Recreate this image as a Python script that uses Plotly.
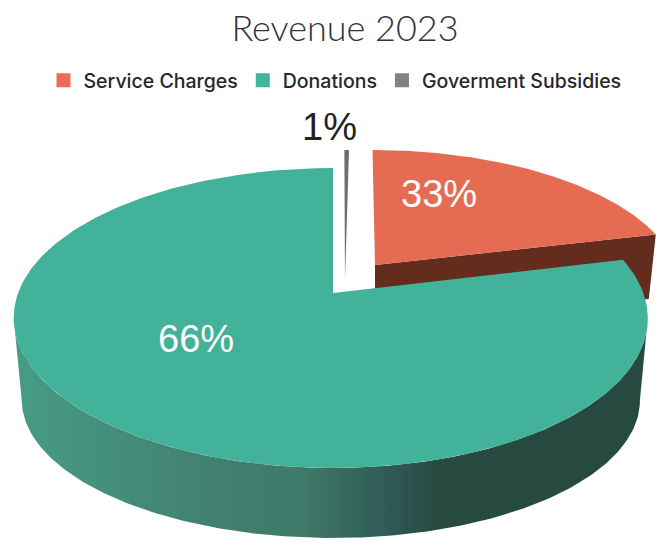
import numpy as np
import plotly.graph_objects as go

# Data
categories = ["Service Charges", "Donations", "Goverment Subsidies"]
label_pct = [33, 66, 1]
# Drawn slices: the picture's wedges are not proportional to their labels
slice_start_deg = [0.0, 76.3, 0.4]
slice_sweep_deg = [76.3, 283.7, 1.0]
top_colors = ["#e56c52", "#42b29a", "#6e6e70"]
legend_colors = ["#ee6c55", "#42b59b", "#808285"]

# Projection of the tilted disc (perspective)
B, K, A = 145.8, 1 / 6, 312.6
# apex x, apex y, x scale, y scale, lean of the far edge
apex = {"Service Charges": (375, 265, 0.969, 0.92, -2.5),
        "Donations": (333, 293, 1.0, 1.0, 0.0),
        "Goverment Subsidies": (345, 280, 0.994, 1.04, -2.5)}
WALL_DROP, WALL_SX, WALL_SY = 84, 0.975, 0.92


def rim(theta_deg, name, low=False, drop=WALL_DROP):
    t = np.radians(theta_deg)
    cx, cy, sx, sy, lean = apex[name]
    w = 1 + K * np.cos(t)
    dx = sx * A * np.sin(t) / w + lean * np.cos(t) ** 2 - 2.3 * np.sin(t) ** 2
    dy = -sy * B * np.cos(t) / w
    if low:
        return cx + WALL_SX * dx, cy + drop + WALL_SY * dy
    return cx + dx, cy + dy


def wedge(name, start, sweep):
    th = np.linspace(start, start + sweep, 240)
    x, y = rim(th, name)
    cx, cy = apex[name][:2]
    return np.r_[cx, x, cx], np.r_[cy, y, cy]


fig = go.Figure()

# Green outer wall, between the two silhouette points of the rim
th = np.linspace(99.6, 260.4, 200)
xt, yt = rim(th, "Donations")
xb, yb = rim(th[::-1], "Donations", low=True)
fig.add_trace(go.Scatter(
    x=np.r_[xt, xb], y=np.r_[yt, yb], mode="lines", fill="toself",
    line=dict(width=0, color="rgba(0,0,0,0)"), showlegend=False, hoverinfo="skip",
    fillgradient=dict(type="horizontal", colorscale=[
        [0, "#479c85"], [0.33, "#417f6f"], [0.45, "#3f7a6a"],
        [0.61, "#2d5650"], [0.67, "#284a40"], [1, "#264a40"]])))

# Brown wall of the orange slice, mostly covered by the green top
tip = slice_sweep_deg[0]
tx, ty = rim(np.array([tip]), "Service Charges")
lx, ly = rim(np.array([tip]), "Service Charges", low=True, drop=62)
ax, ay = apex["Service Charges"][:2]
fig.add_trace(go.Scatter(
    x=[ax, tx[0], lx[0], ax, ax], y=[ay, ty[0], ly[0], ay + 60, ay],
    mode="lines", fill="toself", fillcolor="#642c1d",
    line=dict(width=0, color="#642c1d"), showlegend=False, hoverinfo="skip"))

# Top faces
for name, start, sweep, col in zip(categories, slice_start_deg, slice_sweep_deg, top_colors):
    x, y = wedge(name, start, sweep)
    fig.add_trace(go.Scatter(
        x=x, y=y, mode="lines", fill="toself", fillcolor=col,
        line=dict(width=0, color=col), showlegend=False, hoverinfo="skip"))

# Legend keys
for name, col in zip(categories, legend_colors):
    fig.add_trace(go.Scatter(
        x=[None], y=[None], mode="markers", name=name,
        marker=dict(symbol="square", size=14, color=col)))

label_pos = [(439, 194, "white"), (196, 339, "white"), (329, 127, "#222222")]
for pct, (lxp, lyp, c) in zip(label_pct, label_pos):
    fig.add_annotation(x=lxp, y=lyp, text=f"{pct}%", showarrow=False,
                       font=dict(family="Liberation Sans", size=38, color=c))

fig.update_layout(
    width=656, height=542, margin=dict(l=0, r=0, t=0, b=0),
    paper_bgcolor="white", plot_bgcolor="white",
    title=dict(text="Revenue 2023", x=345 / 656, xanchor="center", y=0.947, yanchor="middle",
               font=dict(family="Lato", size=36, color="#33333d", weight=300)),
    xaxis=dict(range=[0, 656], visible=False, fixedrange=True),
    yaxis=dict(range=[542, 0], visible=False, fixedrange=True),
    legend=dict(orientation="h", x=335 / 656, xanchor="center", y=1 - 80.5 / 542, yanchor="middle",
                font=dict(family="Inter", size=19.5, color="#26262c", weight=500),
                itemwidth=30, bgcolor="rgba(0,0,0,0)"),
    showlegend=True,
)
fig.write_html("out.html", config={"displayModeBar": False},
               post_script="document.body.style.margin='0';")
